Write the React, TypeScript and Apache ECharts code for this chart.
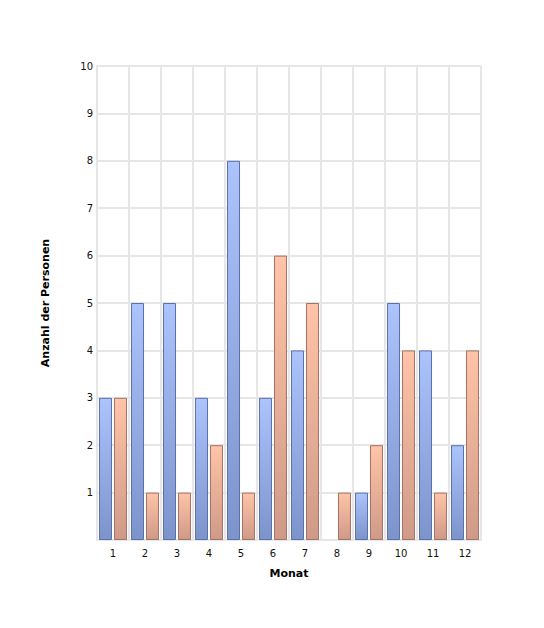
import React, { useEffect, useRef } from "react";
import * as echarts from "echarts";

const categories = ["1", "2", "3", "4", "5", "6", "7", "8", "9", "10", "11", "12"];
const seriesA = [3, 5, 5, 3, 8, 3, 4, 0, 1, 5, 4, 2];
const seriesB = [3, 1, 1, 2, 1, 6, 5, 1, 2, 4, 1, 4];

const grad = (top: string, bottom: string) =>
  new echarts.graphic.LinearGradient(0, 0, 0, 1, [
    { offset: 0, color: top },
    { offset: 1, color: bottom },
  ]);

const hideZero = (arr: number[]) => arr.map((v) => (v === 0 ? null : v));

export default function App() {
  const ref = useRef<HTMLDivElement>(null);
  useEffect(() => {
    if (!ref.current) return;
    const chart = echarts.init(ref.current, undefined, { renderer: "svg" });
    const font = "DejaVu Sans";
    chart.setOption({
      animation: false,
      backgroundColor: "#ffffff",
      grid: { left: 97, right: 63, top: 66, bottom: 88, containLabel: false },
      xAxis: {
        type: "category",
        data: categories,
        name: "Monat",
        nameLocation: "middle",
        nameGap: 28,
        nameTextStyle: { fontFamily: font, fontSize: 11, fontWeight: "bold", color: "#000" },
        axisLine: { show: true, lineStyle: { color: "#e6e6e6", width: 2 } },
        axisTick: { show: false },
        axisLabel: { fontFamily: font, fontSize: 10, color: "#111", margin: 8 },
        splitLine: { show: true, interval: 0, lineStyle: { color: "#e6e6e6", width: 2 } },
      },
      yAxis: {
        type: "value",
        min: 0,
        max: 10,
        interval: 1,
        name: "Anzahl der Personen",
        nameLocation: "middle",
        nameGap: 46,
        nameTextStyle: { fontFamily: font, fontSize: 11, fontWeight: "bold", color: "#000" },
        axisLine: { show: true, lineStyle: { color: "#e6e6e6", width: 2 } },
        axisTick: { show: false },
        axisLabel: {
          fontFamily: font,
          fontSize: 10,
          color: "#111",
          margin: 4,
          formatter: (v: number) => (v === 0 ? "" : String(v)),
        },
        splitLine: { show: true, lineStyle: { color: "#e6e6e6", width: 2 } },
      },
      series: [
        {
          type: "bar",
          data: hideZero(seriesA),
          barWidth: 13,
          barGap: "15%",
          itemStyle: {
            color: grad("#abc4fd", "#7d93cc"),
            borderColor: "#5b6fa8",
            borderWidth: 1,
          },
        },
        {
          type: "bar",
          data: hideZero(seriesB),
          barWidth: 13,
          barGap: "15%",
          itemStyle: {
            color: grad("#ffc4a9", "#cf9a88"),
            borderColor: "#a27262",
            borderWidth: 1,
          },
        },
      ],
    });
    return () => chart.dispose();
  }, []);
  return (
    <div
      ref={ref}
      style={{ position: "absolute", left: 0, top: 0, width: 544, height: 628 }}
    />
  );
}
